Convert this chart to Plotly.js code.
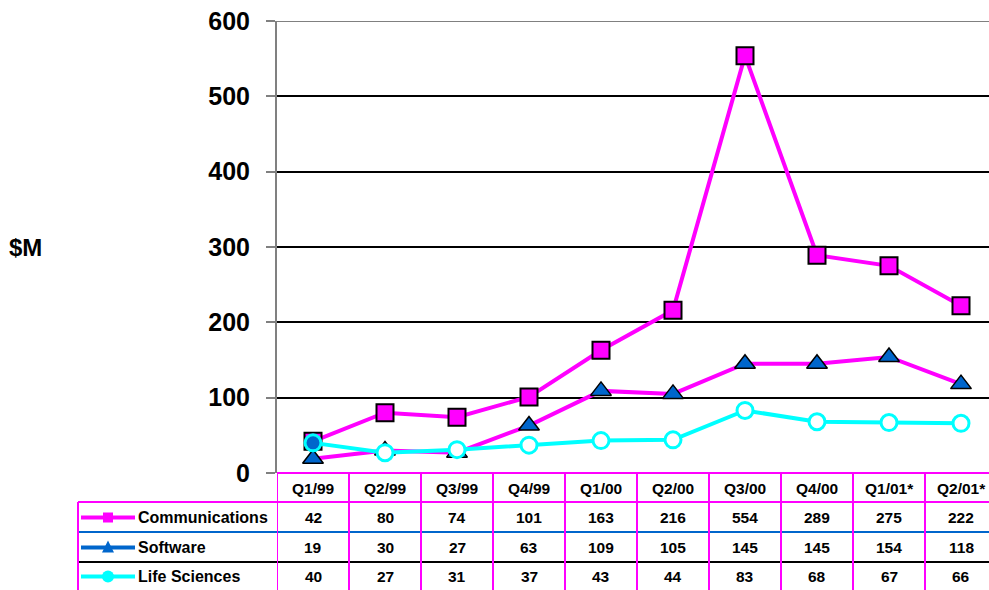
<!DOCTYPE html>
<html>
<head>
<meta charset="utf-8">
<script src="https://cdn.plot.ly/plotly-3.0.1.min.js"></script>
<style>
  html, body { margin: 0; padding: 0; background: #ffffff; }
  #chart { width: 989px; height: 590px; }
</style>
</head>
<body>
<div id="chart"></div>
<script>
// Quarterly revenue by segment, $M
const quarters = ['Q1/99', 'Q2/99', 'Q3/99', 'Q4/99', 'Q1/00', 'Q2/00', 'Q3/00', 'Q4/00', 'Q1/01*', 'Q2/01*'];
const communications = [42, 80, 74, 101, 163, 216, 554, 289, 275, 222];
const software = [19, 30, 27, 63, 109, 105, 145, 145, 154, 118];
const lifeSciences = [40, 27, 31, 37, 43, 44, 83, 68, 67, 66];
const seriesNames = ['Communications', 'Software', 'Life Sciences'];
const yTicks = [0, 100, 200, 300, 400, 500, 600];

const MAGENTA = '#FF00FF';
const BLUE = '#0066CC';
const CYAN = '#00FFFF';
const GREY = '#808080';

const W = 989, H = 590;
const M = { l: 277, r: 0, t: 21, b: 117 };
const plotW = W - M.l - M.r, plotH = H - M.t - M.b;
// pixel -> paper coordinate helpers for the table drawn under the plot
const px = x => (x - M.l) / plotW;
const py = y => (H - M.b - y) / plotH;

const FONT = 'Liberation Sans, Arial, Helvetica, sans-serif';
const bold = (size, color) => ({ family: FONT, size: size, color: color || '#000', weight: 'bold' });

const traces = [
  {
    x: quarters, y: communications, name: seriesNames[0], type: 'scatter', mode: 'lines+markers',
    line: { color: MAGENTA, width: 4 },
    marker: { symbol: 'square', size: 17, color: MAGENTA, line: { color: '#000', width: 2 } },
    cliponaxis: false
  },
  {
    x: quarters, y: software, name: seriesNames[1], type: 'scatter', mode: 'lines+markers',
    line: { color: MAGENTA, width: 4 },
    marker: { symbol: 'triangle-up', size: 18, color: BLUE, line: { color: '#000', width: 1.5 } },
    cliponaxis: false
  },
  {
    x: quarters, y: lifeSciences, name: seriesNames[2], type: 'scatter', mode: 'lines+markers',
    line: { color: CYAN, width: 4 },
    marker: {
      symbol: 'circle', size: 16,
      color: lifeSciences.map((v, i) => i === 0 ? BLUE : '#FFFFFF'),
      line: { color: CYAN, width: 3 }
    },
    cliponaxis: false
  }
];

// Table geometry (pixel rows)
const headerTop = 473, row1Top = 502, row2Top = 532, row3Top = 562, tableBottom = 600;
const tableLeft = 78;
const rowCenters = [517.5, 547.5, 576.5];

const shapes = [];
const annotations = [];

// top border of the plot (gray, like the axis)
shapes.push({ type: 'line', xref: 'paper', yref: 'y', x0: 0, x1: 1, y0: 600, y1: 600,
  line: { color: GREY, width: 2 }, layer: 'above' });

// horizontal table rules
shapes.push({ type: 'line', xref: 'paper', yref: 'paper', x0: 0, x1: 1, y0: py(headerTop), y1: py(headerTop),
  line: { color: MAGENTA, width: 2 }, layer: 'above' });
shapes.push({ type: 'line', xref: 'paper', yref: 'paper', x0: px(tableLeft), x1: 1, y0: py(row1Top), y1: py(row1Top),
  line: { color: MAGENTA, width: 2 }, layer: 'above' });
shapes.push({ type: 'line', xref: 'paper', yref: 'paper', x0: px(tableLeft), x1: 1, y0: py(row2Top), y1: py(row2Top),
  line: { color: BLUE, width: 2 }, layer: 'above' });
shapes.push({ type: 'line', xref: 'paper', yref: 'paper', x0: px(tableLeft), x1: 1, y0: py(row3Top), y1: py(row3Top),
  line: { color: '#000', width: 2 }, layer: 'above' });
// left border of the legend column
shapes.push({ type: 'line', xref: 'paper', yref: 'paper', x0: px(tableLeft), x1: px(tableLeft), y0: py(row1Top), y1: py(tableBottom),
  line: { color: MAGENTA, width: 2 }, layer: 'above' });
// column separators between quarters
for (let i = 0; i <= quarters.length; i++) {
  shapes.push({ type: 'line', xref: 'x', yref: 'paper', x0: i - 0.5, x1: i - 0.5, y0: py(headerTop), y1: py(tableBottom),
    line: { color: MAGENTA, width: 2 }, layer: 'above' });
}

// header labels and values
const seriesData = [communications, software, lifeSciences];
quarters.forEach((q, i) => {
  annotations.push({ x: q, xref: 'x', y: py(488), yref: 'paper', text: q, showarrow: false,
    xanchor: 'center', yanchor: 'middle', font: bold(15.5) });
  seriesData.forEach((arr, r) => {
    annotations.push({ x: q, xref: 'x', y: py(rowCenters[r]), yref: 'paper', text: String(arr[i]), showarrow: false,
      xanchor: 'center', yanchor: 'middle', font: bold(15.5) });
  });
});

// legend keys inside the table
const keyColors = [MAGENTA, BLUE, CYAN];
const keyX0 = 81, keyX1 = 135, keyMid = 108;
seriesNames.forEach((name, r) => {
  const yc = rowCenters[r];
  shapes.push({ type: 'line', xref: 'paper', yref: 'paper', x0: px(keyX0), x1: px(keyX1), y0: py(yc), y1: py(yc),
    line: { color: keyColors[r], width: 4 }, layer: 'above' });
  if (r === 0) {
    shapes.push({ type: 'rect', xref: 'paper', yref: 'paper', x0: px(keyMid - 5), x1: px(keyMid + 5), y0: py(yc - 5), y1: py(yc + 5),
      fillcolor: MAGENTA, line: { width: 0 }, layer: 'above' });
  } else if (r === 1) {
    shapes.push({ type: 'path', xref: 'paper', yref: 'paper',
      path: `M ${px(keyMid - 6)} ${py(yc + 5)} L ${px(keyMid + 6)} ${py(yc + 5)} L ${px(keyMid)} ${py(yc - 7)} Z`,
      fillcolor: BLUE, line: { width: 0 }, layer: 'above' });
  } else {
    shapes.push({ type: 'circle', xref: 'paper', yref: 'paper', x0: px(keyMid - 6), x1: px(keyMid + 6), y0: py(yc - 6), y1: py(yc + 6),
      fillcolor: CYAN, line: { width: 0 }, layer: 'above' });
  }
  annotations.push({ x: px(136), xref: 'paper', y: py(yc), yref: 'paper', text: name, showarrow: false,
    xanchor: 'left', yanchor: 'middle', font: bold(16) });
});

// y-axis unit label
annotations.push({ x: px(7), xref: 'paper', y: py(247), yref: 'paper', text: '$M', showarrow: false,
  xanchor: 'left', yanchor: 'middle', font: bold(24) });

const layout = {
  width: W, height: H,
  margin: M,
  paper_bgcolor: '#FFFFFF', plot_bgcolor: '#FFFFFF',
  showlegend: false,
  xaxis: {
    type: 'category', categoryarray: quarters,
    range: [-0.5, -0.5 + plotW / 72],
    showgrid: false, showline: false, zeroline: false, showticklabels: false, ticks: ''
  },
  yaxis: {
    range: [0, 600], tickvals: yTicks, ticktext: yTicks.map(String),
    showgrid: true, gridcolor: '#000000', gridwidth: 2,
    zeroline: false,
    showline: true, linecolor: GREY, linewidth: 2,
    ticks: 'outside', ticklen: 9, tickwidth: 2, tickcolor: GREY,
    ticklabelstandoff: 11,
    tickfont: bold(25)
  },
  shapes: shapes,
  annotations: annotations
};

Plotly.newPlot('chart', traces, layout, { displayModeBar: false, staticPlot: true });
</script>
</body>
</html>
